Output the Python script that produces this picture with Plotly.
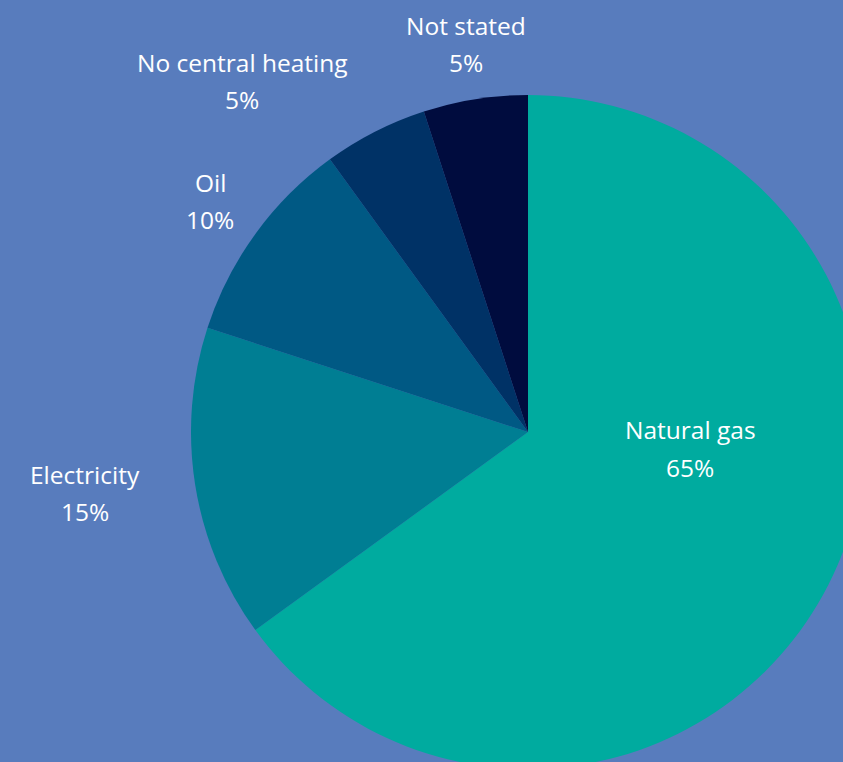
import plotly.graph_objects as go

labels = ["Natural gas", "Electricity", "Oil", "No central heating", "Not stated"]
values = [65, 15, 10, 5, 5]
colors = ["#00AB9F", "#007E93", "#005984", "#003266", "#000C3E"]

# label anchor centres in pixels (x, y from top)
label_pos = [(690, 448), (85, 492), (210, 200), (242, 81), (466, 43)]

W, H = 1056, 864
CX, CY, R = 528, 432, 337
BG = "#587CBD"

fig = go.Figure(go.Pie(
    labels=labels, values=values, sort=False, direction="clockwise", rotation=0,
    marker=dict(colors=colors, line=dict(width=0)),
    textinfo="none", hoverinfo="label+percent", showlegend=False,
    domain=dict(x=[0, 1], y=[(H - (CY + R)) / H, (H - (CY - R)) / H]),
))

font = dict(family="'Open Sans', sans-serif", size=24.5, color="white")
for lab, val, (px, py) in zip(labels, values, label_pos):
    fig.add_annotation(x=px / W, y=1 - (py - 18) / H, xref="paper", yref="paper",
                       text=lab, showarrow=False, font=font, xanchor="center", yanchor="middle")
    fig.add_annotation(x=px / W, y=1 - (py + 19) / H, xref="paper", yref="paper",
                       text=f"{val}%", showarrow=False, font=font, xanchor="center", yanchor="middle")

fig.update_layout(width=W, height=H, margin=dict(l=0, r=0, t=0, b=0),
                  paper_bgcolor=BG, plot_bgcolor=BG)

fig.write_html("out.html", post_script="document.body.style.margin='0';document.body.style.overflow='hidden';document.documentElement.style.overflow='hidden';document.documentElement.style.background='" + BG + "';")
